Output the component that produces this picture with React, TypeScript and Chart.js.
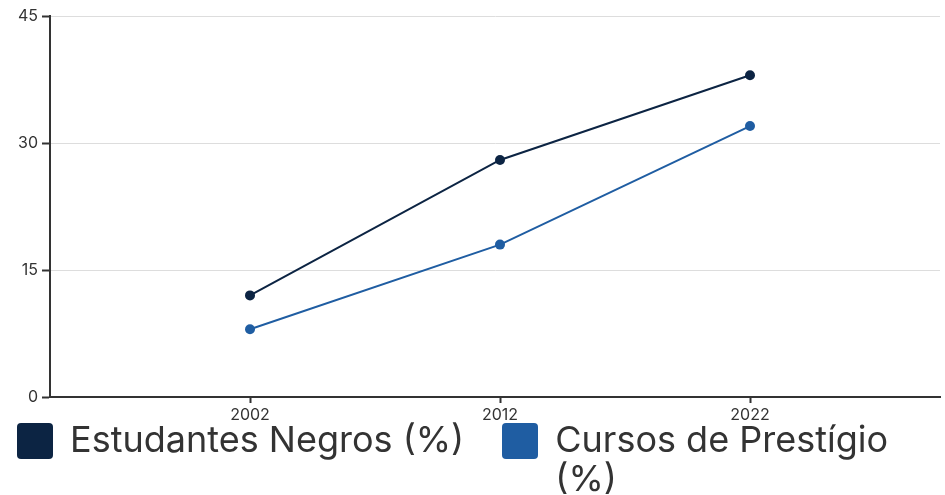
import React, { useEffect, useRef } from 'react';
import { Chart, registerables } from 'chart.js';

Chart.register(...registerables);

const years = [2002, 2012, 2022];
const seriesLabels = ['Estudantes Negros (%)', 'Cursos de Prestígio (%)'];
const estudantesNegros = [12, 28, 38];
const cursosPrestigio = [8, 18, 32];
const yTickValues = [0, 15, 30, 45];
const xRange = [1994, 2029.6];
const seriesColors = ['#0c2443', '#1f5da2'];

export default function App() {
  const ref = useRef<HTMLCanvasElement>(null);

  useEffect(() => {
    document.body.style.margin = '0';
    const axisColor = '#333333';
    const tickFont = { family: 'Inter', size: 16 };
    const seriesData = [estudantesNegros, cursosPrestigio];
    const chart = new Chart(ref.current as HTMLCanvasElement, {
      type: 'line',
      data: {
        datasets: seriesLabels.map((label, si) => ({
          label,
          data: years.map((yr, i) => ({ x: yr, y: seriesData[si][i] })),
          borderColor: seriesColors[si],
          backgroundColor: seriesColors[si],
          borderWidth: 2,
          pointRadius: 5,
          pointBorderWidth: 0,
          pointBackgroundColor: seriesColors[si],
          tension: 0,
          fill: false,
        })),
      },
      options: {
        animation: false,
        responsive: true,
        maintainAspectRatio: false,
        layout: { padding: { top: 16, left: 0, right: 0, bottom: 0 } },
        plugins: {
          legend: { display: false },
          tooltip: { enabled: false },
        },
        scales: {
          x: {
            type: 'linear',
            min: xRange[0],
            max: xRange[1],
            afterBuildTicks: (s: any) => {
              s.ticks = years.map((v) => ({ value: v }));
            },
            afterFit: (s: any) => {
              s.height = 28;
            },
            grid: {
              drawOnChartArea: false,
              drawTicks: true,
              tickLength: 6,
              tickWidth: 2,
              tickColor: axisColor,
            },
            border: { color: axisColor, width: 2 },
            ticks: {
              callback: (v: any) => String(v),
              color: axisColor,
              font: tickFont,
              padding: 3,
              maxRotation: 0,
              autoSkip: false,
            },
          },
          y: {
            min: 0,
            max: 45,
            afterBuildTicks: (s: any) => {
              s.ticks = yTickValues.map((v) => ({ value: v }));
            },
            afterFit: (s: any) => {
              s.width = 50;
            },
            grid: {
              color: '#dddddd',
              lineWidth: 1,
              tickLength: 8,
              tickWidth: 2,
              tickColor: axisColor,
            },
            border: { color: axisColor, width: 2 },
            ticks: {
              color: axisColor,
              font: tickFont,
              padding: 4,
            },
          },
        },
      },
    });
    return () => chart.destroy();
  }, []);

  return (
    <div
      style={{
        position: 'relative',
        width: 945,
        height: 495,
        overflow: 'hidden',
        fontFamily: 'Inter',
        background: '#ffffff',
      }}
    >
      <div style={{ position: 'absolute', left: 0, top: 0, width: 945, height: 425 }}>
        <canvas ref={ref} />
      </div>
      <div
        style={{
          position: 'absolute',
          left: 0,
          top: 420,
          width: 945,
          display: 'flex',
          alignItems: 'flex-start',
          paddingLeft: 17,
          gap: 38,
          boxSizing: 'border-box',
        }}
      >
        {seriesLabels.map((label, i) => (
          <div
            key={label}
            style={{
              display: 'flex',
              alignItems: 'flex-start',
              minWidth: 0,
              flex: i === seriesLabels.length - 1 ? '0 1 auto' : '0 0 auto',
            }}
          >
            <span
              style={{
                width: 36,
                height: 36,
                background: seriesColors[i],
                borderRadius: 4,
                flex: '0 0 auto',
                marginTop: 3,
                marginRight: 17,
              }}
            />
            <span style={{ fontSize: 36, lineHeight: '39px', color: '#333333' }}>{label}</span>
          </div>
        ))}
      </div>
    </div>
  );
}
